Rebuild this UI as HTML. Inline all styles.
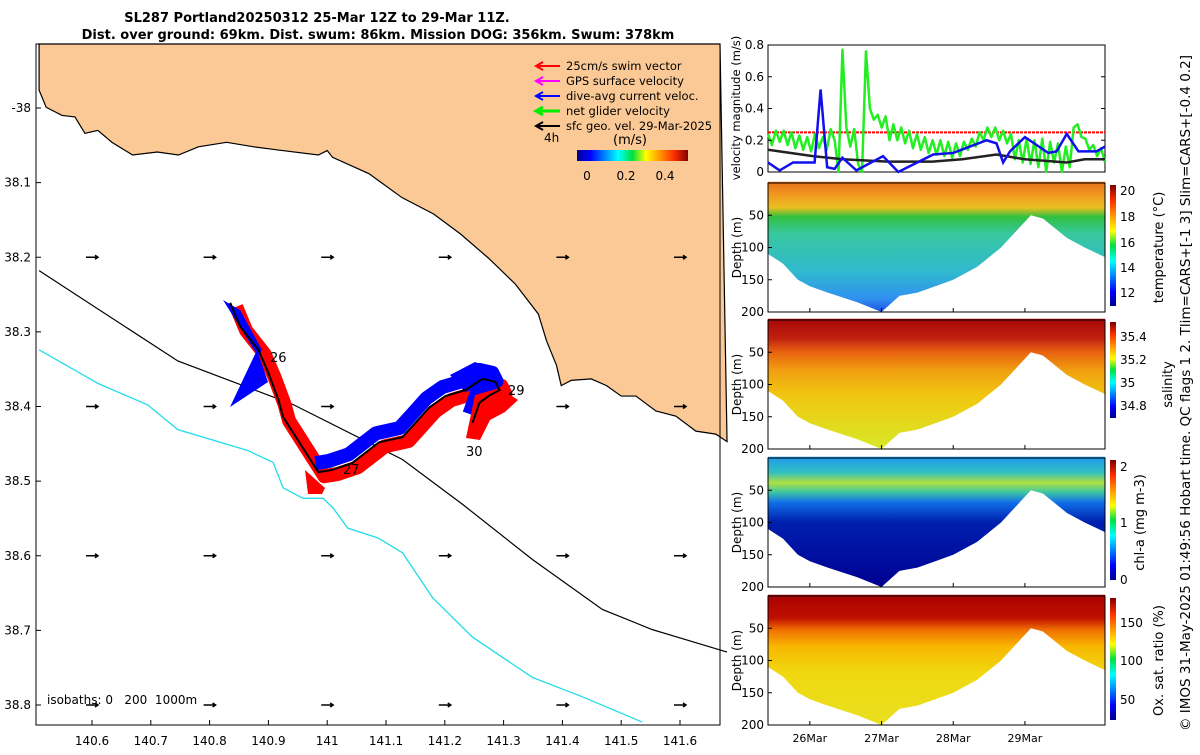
<!DOCTYPE html>
<html><head><meta charset="utf-8"><style>
body{margin:0;background:#fff;font-family:"Liberation Sans","DejaVu Sans",sans-serif}
svg text{font-family:"DejaVu Sans","Liberation Sans",sans-serif}
</style></head><body>
<svg id="s" width="1200" height="750" xmlns="http://www.w3.org/2000/svg">
<defs>
<linearGradient id="jetH" x1="0" x2="1" y1="0" y2="0">
<stop offset="0" stop-color="#00008f"/><stop offset="0.12" stop-color="#0000ff"/><stop offset="0.37" stop-color="#00ffff"/><stop offset="0.5" stop-color="#00e040"/><stop offset="0.62" stop-color="#ffff00"/><stop offset="0.87" stop-color="#ff3000"/><stop offset="1" stop-color="#800000"/></linearGradient>
<linearGradient id="jetV" x1="0" x2="0" y1="1" y2="0">
<stop offset="0" stop-color="#00008f"/><stop offset="0.12" stop-color="#0000ff"/><stop offset="0.37" stop-color="#00ffff"/><stop offset="0.5" stop-color="#00e040"/><stop offset="0.62" stop-color="#ffff00"/><stop offset="0.87" stop-color="#ff3000"/><stop offset="1" stop-color="#800000"/></linearGradient>
<linearGradient id="gT" x1="0" x2="0" y1="0" y2="1">
<stop offset="0" stop-color="#e8701c"/><stop offset="0.12" stop-color="#f0a020"/><stop offset="0.2" stop-color="#e8c020"/><stop offset="0.27" stop-color="#30c040"/><stop offset="0.4" stop-color="#38c8a0"/><stop offset="0.7" stop-color="#30b8d0"/><stop offset="0.9" stop-color="#3090f0"/><stop offset="1" stop-color="#2050e0"/></linearGradient>
<linearGradient id="gS" x1="0" x2="0" y1="0" y2="1">
<stop offset="0" stop-color="#a80808"/><stop offset="0.15" stop-color="#c02010"/><stop offset="0.25" stop-color="#e86010"/><stop offset="0.4" stop-color="#f0a010"/><stop offset="0.6" stop-color="#f0c810"/><stop offset="1" stop-color="#d8e828"/></linearGradient>
<linearGradient id="gC" x1="0" x2="0" y1="0" y2="1">
<stop offset="0" stop-color="#2098f0"/><stop offset="0.12" stop-color="#30c0c0"/><stop offset="0.2" stop-color="#b0e040"/><stop offset="0.27" stop-color="#40c8a0"/><stop offset="0.35" stop-color="#1070e8"/><stop offset="0.5" stop-color="#0020b0"/><stop offset="1" stop-color="#000090"/></linearGradient>
<linearGradient id="gO" x1="0" x2="0" y1="0" y2="1">
<stop offset="0" stop-color="#a80000"/><stop offset="0.18" stop-color="#c01000"/><stop offset="0.27" stop-color="#f07000"/><stop offset="0.4" stop-color="#f8b800"/><stop offset="0.6" stop-color="#f0d810"/><stop offset="1" stop-color="#e8e020"/></linearGradient>
</defs>
<g id="map"></g>
<g id="right"></g>
<text x="317" y="22" text-anchor="middle" font-size="13" font-weight="bold">SL287 Portland20250312 25-Mar 12Z to 29-Mar 11Z.</text>
<text x="378" y="39" text-anchor="middle" font-size="13" font-weight="bold">Dist. over ground: 69km. Dist. swum: 86km. Mission DOG: 356km. Swum: 378km</text>
<text transform="translate(1190,393) rotate(-90)" text-anchor="middle" font-size="13.5">© IMOS 31-May-2025 01:49:56 Hobart time. QC flags 1  2. Tlim=CARS+[-1 3] Slim=CARS+[-0.4 0.2]</text>
</svg>
<script>
const NS='http://www.w3.org/2000/svg';
function mk(p,tag,a,txt){const e=document.createElementNS(NS,tag);for(const k in a)e.setAttribute(k,a[k]);if(txt!==undefined)e.textContent=txt;p.appendChild(e);return e;}
const map=document.getElementById('map'), right=document.getElementById('right');

// ---------- MAP ----------
const lonTicks=[140.6,140.7,140.8,140.9,141,141.1,141.2,141.3,141.4,141.5,141.6];
const latTicks=[-38,-38.1,-38.2,-38.3,-38.4,-38.5,-38.6,-38.7,-38.8];
const latLabels=['-38','38.1','38.2','38.3','38.4','38.5','38.6','38.7','38.8'];
const coastLon=[140.51,140.522,140.549,140.571,140.588,140.61,140.634,140.669,140.711,140.747,140.781,140.829,140.875,140.914,140.985,141.0,141.009,141.071,141.127,141.181,141.227,141.274,141.32,141.359,141.373,141.39,141.398,141.415,141.449,141.475,141.5,141.525,141.559,141.593,141.627,141.661,141.68];
const coastLat=[-37.976,-37.999,-38.01,-38.012,-38.034,-38.03,-38.046,-38.063,-38.059,-38.063,-38.052,-38.046,-38.052,-38.056,-38.063,-38.057,-38.066,-38.088,-38.12,-38.142,-38.169,-38.201,-38.236,-38.276,-38.312,-38.345,-38.372,-38.365,-38.363,-38.372,-38.386,-38.386,-38.406,-38.413,-38.433,-38.437,-38.447];
const iso200Lon=[140.51,140.746,140.941,141.128,141.23,141.349,141.468,141.553,141.68];
const iso200Lat=[-38.218,-38.339,-38.397,-38.471,-38.531,-38.605,-38.672,-38.699,-38.729];
const iso1000Lon=[140.51,140.61,140.695,140.746,140.865,140.908,140.925,140.959,140.993,141.01,141.035,141.086,141.128,141.179,141.247,141.349,141.434,141.536];
const iso1000Lat=[-38.324,-38.369,-38.398,-38.431,-38.459,-38.475,-38.509,-38.523,-38.523,-38.536,-38.563,-38.576,-38.596,-38.656,-38.709,-38.763,-38.789,-38.823];
const trackLon=[140.835,140.852,140.883,140.9,140.917,140.925,140.985,141.008,141.042,141.088,141.128,141.15,141.174,141.201,141.235,141.264,141.286,141.293,141.276,141.259,141.247];
const trackLat=[-38.261,-38.293,-38.324,-38.355,-38.391,-38.414,-38.488,-38.485,-38.476,-38.448,-38.441,-38.422,-38.401,-38.386,-38.378,-38.363,-38.367,-38.378,-38.385,-38.395,-38.422];
const vecLon=[140.6,140.8,141,141.2,141.4,141.6];
const vecLat=[-38.2,-38.4,-38.6,-38.8];
const X=l=>92+(l-140.6)*588, Y=l=>108+(-38-l)*746.25;
const MX0=36,MX1=720,MY0=44,MY1=725;
mk(map,'rect',{x:MX0,y:MY0,width:MX1-MX0,height:MY1-MY0,fill:'#fff',});
let cp=`M${X(coastLon[0])},${MY0} `+coastLon.map((l,i)=>`L${X(l)},${Y(coastLat[i])}`).join(' ')+` L${MX1},${MY0} Z`;
mk(map,'path',{d:cp,fill:'#fbc996',stroke:'#000','stroke-width':1.2,});
mk(map,'polyline',{points:iso200Lon.map((l,i)=>X(l)+','+Y(iso200Lat[i])).join(' '),fill:'none',stroke:'#000','stroke-width':1.2,});
const cw=document.createElementNS(NS,'clipPath');cw.id='mc';map.appendChild(cw);mk(cw,'rect',{x:MX0,y:MY0,width:MX1-MX0,height:MY1-MY0});
mk(map,'polyline',{points:iso1000Lon.map((l,i)=>X(l)+','+Y(iso1000Lat[i])).join(' '),fill:'none',stroke:'#22dde8','stroke-width':1.3,'clip-path':'url(#mc)',});
vecLat.forEach(la=>vecLon.forEach(lo=>{const x=X(lo),y=Y(la);
 const v=mk(map,'path',{d:`M${x-6},${y} L${x+6},${y} M${x+3},${y-2} L${x+6},${y} L${x+3},${y+2}`,stroke:'#000','stroke-width':1.5,fill:'none'});
 
 }));
const tp=trackLon.map((l,i)=>[X(l),Y(trackLat[i])]);
mk(map,'polyline',{points:tp.map(p=>(p[0]+6)+','+(p[1]+4)).join(' '),fill:'none',stroke:'#ff0000','stroke-width':14,'stroke-linejoin':'round',});
mk(map,'polyline',{points:tp.slice(6).map(p=>(p[0]-3)+','+(p[1]-9)).join(' '),fill:'none',stroke:'#0000ff','stroke-width':14,'stroke-linejoin':'round',});
mk(map,'polygon',{points:'257,350 268,382 230,407','fill':'#0000ff',});
mk(map,'polygon',{points:'223,300 240,310 262,350 258,356','fill':'#0000ff',});
mk(map,'polygon',{points:'475,395 500,388 518,400 505,412 490,420 480,440 466,438','fill':'#ff0000',});
mk(map,'polygon',{points:'305,470 325,488 322,494 308,494','fill':'#ff0000',});
mk(map,'polygon',{points:'450,375 475,362 490,368 492,385 465,392','fill':'#0000ff',});
mk(map,'polyline',{points:tp.map(p=>p.join(',')).join(' '),fill:'none',stroke:'#000','stroke-width':2,});
[['26',270,362],['27',343,474],['29',508,395],['30',466,456]].forEach(d=>{const t=mk(map,'text',{x:d[1],y:d[2],'font-size':13},d[0]);});
mk(map,'text',{x:47,y:704,'font-size':12,},'isobaths: 0\u00a0\u00a0\u00a0200\u00a0\u00a01000m');
mk(map,'rect',{x:MX0,y:MY0,width:MX1-MX0,height:MY1-MY0,fill:'none',stroke:'#000','stroke-width':1,});
lonTicks.forEach(l=>{const x=X(l);mk(map,'line',{x1:x,x2:x,y1:MY1,y2:MY1-5,stroke:'#000'});const t=mk(map,'text',{x:x,y:745,'font-size':12,'text-anchor':'middle'},String(l));});
latTicks.forEach((l,i)=>{const y=Y(l);mk(map,'line',{x1:MX0,x2:MX0+5,y1:y,y2:y,stroke:'#000'});const t=mk(map,'text',{x:31,y:y+4,'font-size':12,'text-anchor':'end'},latLabels[i]);});
const legC=['#ff0000','#ff00ff','#0000ff','#00ee00','#000'];
const legT=['25cm/s swim vector','GPS surface velocity','dive-avg current veloc.','net glider velocity','sfc geo. vel. 29-Mar-2025'];
legT.forEach((s,i)=>{const y=62+i*15;mk(map,'path',{d:`M537,${y+4} L560,${y+4} M543,${y} L536,${y+4} L543,${y+8}`,stroke:legC[i],'stroke-width':i==3?3:2,fill:'none'});const t=mk(map,'text',{x:566,y:y+8,'font-size':11.5},s);});
mk(map,'text',{x:544,y:142,'font-size':12,},'4h');
mk(map,'text',{x:613,y:144,'font-size':13,},'(m/s)');
mk(map,'rect',{x:577,y:150,width:111,height:11,fill:'url(#jetH)',});
[['0',587],['0.2',626],['0.4',665]].forEach(d=>{const t=mk(map,'text',{x:d[1],y:180,'font-size':12,'text-anchor':'middle'},d[0]);});

// ---------- RIGHT PANELS ----------
const PX0=768,PX1=1105,HSPAN=112.8;
const dayTicks=[14,38,62,86];
const dayLabels=['26Mar','27Mar','28Mar','29Mar'];
const velTicks=[0,0.2,0.4,0.6,0.8];
const blueH=[0,3.9,8.4,15.6,17.6,19.8,22.3,24.9,29.6,38.5,43.6,55.3,62,73.2,76.5,78.7,81,86,89.9,93.8,96.6,100,103.9,110,112.8];
const blueV=[0.06,0.01,0.06,0.06,0.52,0.03,0.02,0.09,0.01,0.1,0,0.11,0.12,0.2,0.18,0.06,0.13,0.22,0.17,0.12,0.13,0.24,0.13,0.13,0.16];
const blackH=[0,15,25,40,55,65,76.5,86,100,106,112.8];
const blackV=[0.14,0.1,0.08,0.065,0.065,0.08,0.11,0.08,0.06,0.08,0.08];
const greenV=[0.24,0.17,0.26,0.19,0.26,0.17,0.25,0.15,0.23,0.14,0.22,0.13,0.24,0.15,0.22,0.14,0.27,0.2,0.0,0.77,0.28,0.16,0.27,0.05,0.0,0.76,0.4,0.33,0.36,0.28,0.35,0.2,0.3,0.2,0.28,0.18,0.26,0.15,0.24,0.14,0.22,0.12,0.2,0.11,0.2,0.1,0.19,0.09,0.18,0.1,0.19,0.14,0.21,0.16,0.25,0.2,0.28,0.22,0.28,0.2,0.26,0.18,0.24,0.08,0.2,0.06,0.21,0.05,0.2,0.03,0.21,0.0,0.19,0.06,0.18,0.0,0.16,0.03,0.28,0.3,0.22,0.21,0.14,0.17,0.1,0.15,0.06];
const swimRef=0.25;
const bottomH=[0,5,10,14,20,30,38,44,50,56,62,70,78,84,88,92,96,100,106,112.8];
const bottomD=[110,125,150,160,170,185,200,175,170,160,150,130,100,70,50,55,70,85,100,115];
const depthTicks=[50,100,150,200];
const TX=h=>PX0+h/HSPAN*(PX1-PX0);
const VY0=45,VY1=172, VY=v=>VY1-v/0.8*(VY1-VY0);
mk(right,'rect',{x:PX0,y:VY0,width:PX1-PX0,height:VY1-VY0,fill:'#fff',stroke:'#000',});
mk(right,'line',{x1:PX0,x2:PX1,y1:VY(swimRef),y2:VY(swimRef),stroke:'#ff0000','stroke-width':2,'stroke-dasharray':'3,1',});
mk(right,'polyline',{points:greenV.map((v,i)=>TX(i*HSPAN/(greenV.length-1))+','+VY(v)).join(' '),fill:'none',stroke:'#22ee22','stroke-width':2.5,'stroke-linejoin':'round',});
mk(right,'polyline',{points:blackH.map((h,i)=>TX(h)+','+VY(blackV[i])).join(' '),fill:'none',stroke:'#222','stroke-width':2.5,});
mk(right,'polyline',{points:blueH.map((h,i)=>TX(h)+','+VY(blueV[i])).join(' '),fill:'none',stroke:'#1010ee','stroke-width':2.5,});
velTicks.forEach(v=>{mk(right,'line',{x1:PX0,x2:PX0+4,y1:VY(v),y2:VY(v),stroke:'#000'});mk(right,'line',{x1:PX1,x2:PX1-4,y1:VY(v),y2:VY(v),stroke:'#000'});const t=mk(right,'text',{x:764,y:VY(v)+4,'font-size':12,'text-anchor':'end'},String(v));});
mk(right,'text',{transform:'translate(740,108) rotate(-90)','font-size':11.5,'text-anchor':'middle',},'velocity magnitude (m/s)');
const panels=[
 {y0:183,grad:'gT',name:'temperature',label:'temperature (°C)',lx:1163,cb:[185,306],ticks:[['20',191],['18',217],['16',243],['14',268],['12',293]]},
 {y0:320,grad:'gS',name:'salinity',label:'salinity',lx:1172,cb:[322,418],ticks:[['35.4',337],['35.2',360],['35',383],['34.8',406]]},
 {y0:458,grad:'gC',name:'chlorophyll',label:'chl-a (mg m-3)',lx:1144,cb:[460,580],ticks:[['2',467],['1',523],['0',580]]},
 {y0:596,grad:'gO',name:'oxygen',label:'Ox. sat. ratio (%)',lx:1163,cb:[598,720],ticks:[['150',623],['100',661],['50',700]]}];
panels.forEach((p,k)=>{
 const H=129, DY=d=>p.y0+d/200*H;
 const g=mk(right,'g',{});
 mk(g,'rect',{x:PX0,y:p.y0,width:PX1-PX0,height:H,fill:'#fff'});
 let d=`M${TX(0)},${DY(-2)} L${TX(HSPAN)},${DY(-2)} `+bottomH.slice().reverse().map((h,i)=>`L${TX(h)},${DY(bottomD[bottomH.length-1-i])}`).join(' ')+' Z';
 mk(g,'path',{d:d,fill:`url(#${p.grad})`});
 mk(g,'rect',{x:PX0,y:p.y0,width:PX1-PX0,height:H,fill:'none',stroke:'#000'});
 depthTicks.forEach(v=>{mk(g,'line',{x1:PX0,x2:PX0+4,y1:DY(v),y2:DY(v),stroke:'#000'});const t=mk(g,'text',{x:764,y:DY(v)+4,'font-size':12,'text-anchor':'end'},String(v));});
 dayTicks.forEach(h=>{mk(g,'line',{x1:TX(h),x2:TX(h),y1:p.y0+H,y2:p.y0+H-4,stroke:'#000'});});
 const yt=mk(g,'text',{transform:`translate(741,${p.y0+H/2}) rotate(-90)`,'font-size':12,'text-anchor':'middle'},'Depth (m)');
 const cb=mk(g,'rect',{x:1110,y:p.cb[0],width:6,height:p.cb[1]-p.cb[0],fill:'url(#jetV)'});
 p.ticks.forEach(t=>{const e=mk(g,'text',{x:1120,y:t[1]+4,'font-size':12},t[0]);});
 const lt=mk(g,'text',{transform:`translate(${p.lx},${p.y0+H/2}) rotate(-90)`,'font-size':13,'text-anchor':'middle'},p.label);
});
dayTicks.forEach((h,i)=>{const t=mk(right,'text',{x:TX(h),y:742,'font-size':11,'text-anchor':'middle'},dayLabels[i]);});
</script>
</body></html>
